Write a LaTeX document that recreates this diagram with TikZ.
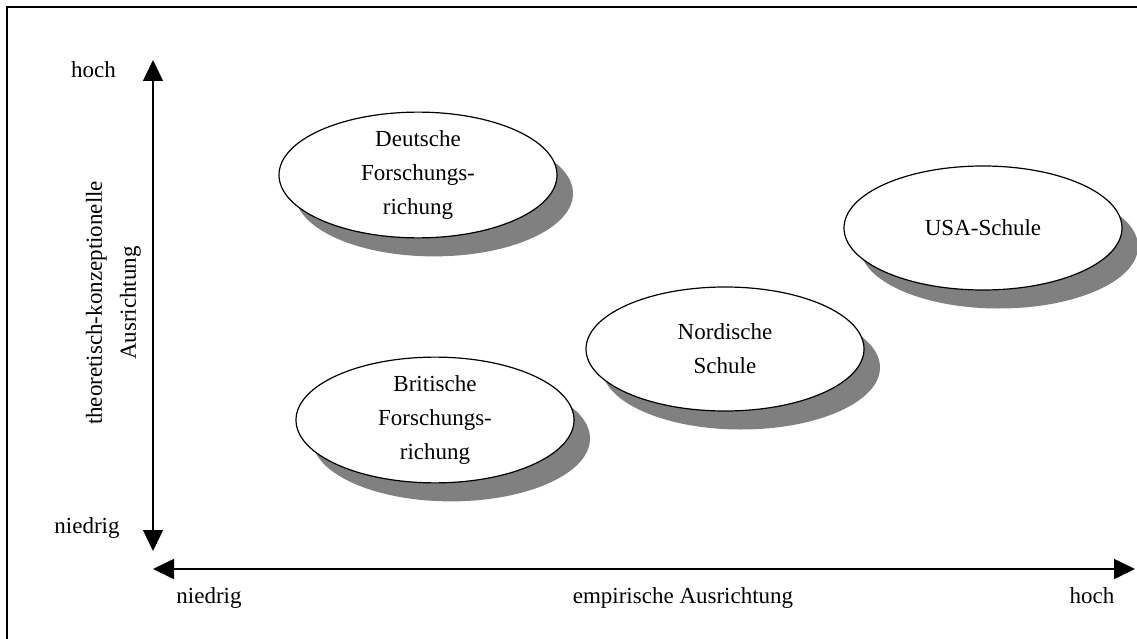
\documentclass[tikz,border=0pt]{standalone}
\usepackage{fontspec}
\setmainfont{Liberation Serif}
\usetikzlibrary{arrows.meta,shapes.geometric,shadows}
\begin{document}
\begin{tikzpicture}[x=1pt,y=-1pt,
  lbl/.style={font=\fontsize{23}{34}\selectfont, inner sep=0pt},
  field/.style={ellipse, draw, line width=1.2pt, fill=white,
    minimum width=278pt, minimum height=124pt, inner sep=0pt,
    align=center, font=\fontsize{23}{34}\selectfont,
    drop shadow={shadow xshift=16pt, shadow yshift=-18.5pt,
      fill=black!50, opacity=1, draw=none}},
  tip/.style={Triangle[length=21pt,width=20pt]},
  yaxis/.style={{Triangle[length=21pt,width=20pt]}-{Triangle[length=21pt,width=20pt]}, line width=1.3pt},
  xaxis/.style={{Triangle[length=21pt,width=20pt]}-{Triangle[length=21pt,width=20pt]}, line width=1.7pt},
  frame/.style={line width=2pt}
]
% page and outer frame (only its top and left edges fall inside the page)
\clip (0,0) rectangle (1137,639);
\draw[frame] (7,7) rectangle (1160,660);

% axes
\coordinate (ytop) at (153,60);
\coordinate (ybot) at (153,551);
\coordinate (xlow) at (153,569);
\coordinate (xhigh) at (1135,569);
\draw[yaxis] (ybot) -- (ytop);
\draw[xaxis] (xlow) -- (xhigh);

% axis labels
\node[lbl, anchor=base] (yhigh) at (93.5,78) {hoch};
\node[lbl, anchor=base] (ylow) at (87,533) {niedrig};
\node[lbl, rotate=90, align=center] (ytitle) at (113.5,303)
  {theoretisch-konzeptionelle\\Ausrichtung};
\node[lbl, anchor=base] (xlowlbl) at (209,603) {niedrig};
\node[lbl, anchor=base] (xtitle) at (683,603) {empirische Ausrichtung};
\node[lbl, anchor=base] (xhighlbl) at (1092,603) {hoch};

% research schools
\node[field] (deutsch) at (418,175) {Deutsche\\Forschungs-\\richung};
\node[field] (usa) at (983,228) {USA-Schule};
\node[field] (nord) at (725,349) {Nordische\\Schule};
\node[field] (brit) at (435,420) {Britische\\Forschungs-\\richung};
\end{tikzpicture}
\end{document}
